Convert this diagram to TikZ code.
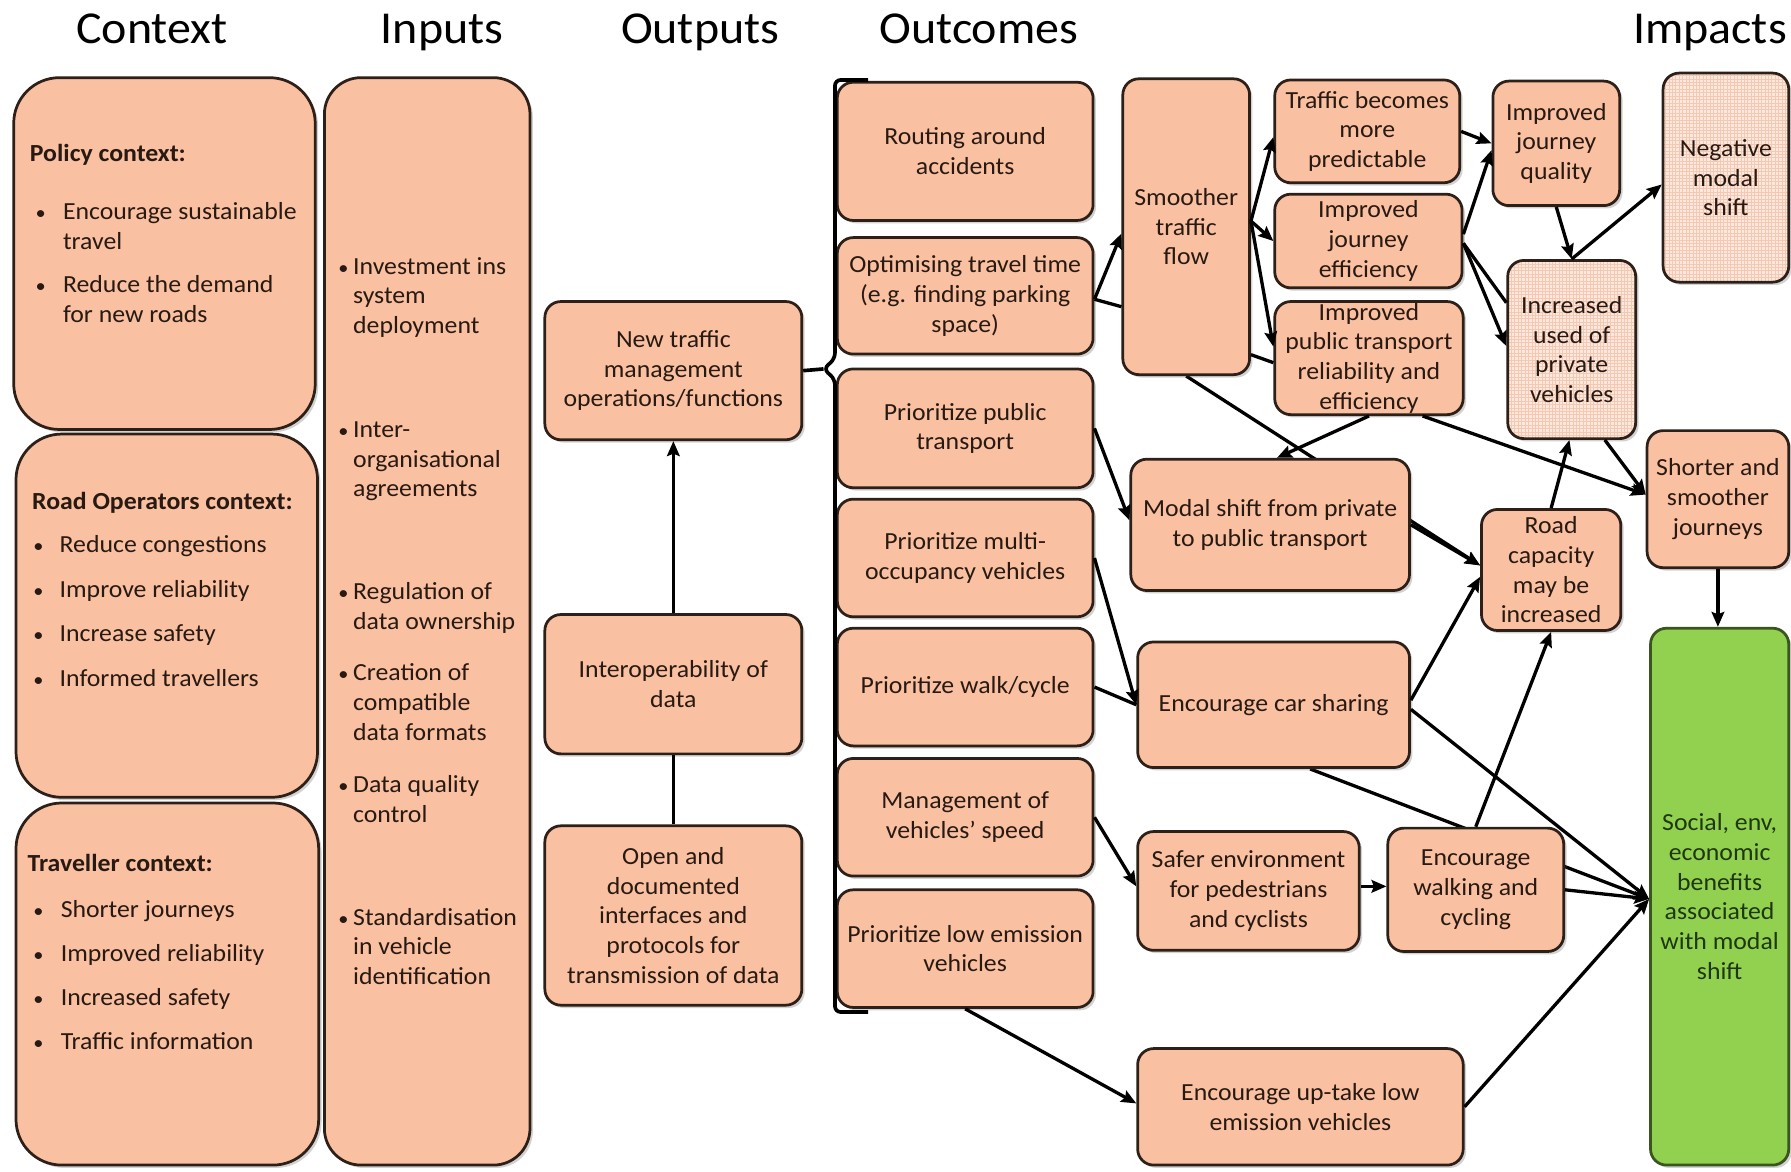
\documentclass[tikz,border=0pt]{standalone}
\usepackage{fontspec}
\setmainfont{Carlito}[FakeStretch=1.05]
\usetikzlibrary{arrows.meta,calc,shadows,patterns,backgrounds}
\definecolor{peach}{RGB}{249,192,161}
\definecolor{edge}{RGB}{45,32,24}
\definecolor{txt}{RGB}{40,26,18}
\definecolor{hatchbg}{RGB}{252,232,220}
\definecolor{hatchln}{RGB}{244,200,178}
\definecolor{grn}{RGB}{146,208,80}
\definecolor{grnedge}{RGB}{58,86,30}
\definecolor{grntxt}{RGB}{30,55,15}
\tikzset{
 shd/.style={drop shadow={shadow xshift=2.5pt,shadow yshift=-2.5pt,opacity=0.25,fill=black!70}},
 box/.style={shd, draw=edge, line width=2.4pt, fill=peach, rounded corners=14pt, align=center,
   text=txt, inner xsep=3pt, inner ysep=0pt, font=\fontsize{21.5}{26}\selectfont},
 hbox/.style={box, fill=none, preaction={fill=hatchbg}, pattern=grid, pattern color=hatchln},
 gbox/.style={box, fill=grn, draw=grnedge, text=grntxt},
 bigbox/.style={box, rounded corners=40pt},
 ctx/.style={text=txt, font=\fontsize{21.5}{26}\selectfont, inner sep=0pt, anchor=base west},
 ctxb/.style={ctx, font=\fontsize{21.5}{26}\selectfont\bfseries},
 hdr/.style={anchor=base, font=\fontsize{40}{48}\selectfont, inner sep=0pt, text=black},
 arr/.style={line width=2.9pt, draw=black, -{Stealth[length=13pt,width=11pt,inset=2pt]}},
 ln/.style={line width=2.9pt, draw=black},
 brk/.style={line width=3.2pt, draw=black, rounded corners=5pt},
}
\newcommand\bitem[5]{\node[ctx] (#1b) at (#2,#4) {\fontsize{17}{20}\selectfont•};\node[ctx] (#1) at (#3,#4) {#5};}
\newcommand\tline[4]{\node[ctx] (#1) at (#2,#3) {#4};}
\begin{document}
\begin{tikzpicture}[x=1pt,y=-1pt]
\begin{scope}[on background layer]
\fill[white] (0,0) rectangle (1568,1026);
\end{scope}
\useasboundingbox (0,0) rectangle (1568,1026);

% headers
\node[hdr] (hctx) at (133,38) {Context};
\node[hdr] (hinp) at (387,38) {Inputs};
\node[hdr] (hout) at (613,38) {Outputs};
\node[hdr] (hoc) at (857,38) {Outcomes};
\node[hdr] (himp) at (1497,38) {Impacts};

% context boxes
\node[bigbox, minimum width=264pt, minimum height=308pt] (policy) at (144,222) {};
\node[bigbox, minimum width=264pt, minimum height=318pt] (roadops) at (146,539) {};
\node[bigbox, minimum width=265pt, minimum height=317pt] (traveller) at (146.5,861.5) {};
\node[box, rounded corners=32pt, minimum width=180pt, minimum height=952pt] (inputs) at (374,544) {};

% policy text
\node[ctxb] (poltitle) at (26,141) {Policy context:};
\bitem{pa}{31}{55}{192}{Encourage sustainable}
\tline{pa2}{55}{218}{travel}
\bitem{pb}{31}{55}{256}{Reduce the demand}
\tline{pb2}{55}{282}{for new roads}
% road operators text
\node[ctxb] (rotitle) at (28,446) {Road Operators context:};
\bitem{ra}{29}{52}{484}{Reduce congestions}
\bitem{rb}{29}{52}{523}{Improve reliability}
\bitem{rc}{29}{52}{562}{Increase safety}
\bitem{rd}{29}{52}{601}{Informed travellers}
% traveller text
\node[ctxb] (trtitle) at (24,763) {Traveller context:};
\bitem{ta}{29}{53}{803}{Shorter journeys}
\bitem{tb}{29}{53}{842}{Improved reliability}
\bitem{tc}{29}{53}{880}{Increased safety}
\bitem{td}{29}{53}{919}{Traffic information}
% inputs text
\bitem{ia}{296}{309}{240}{Investment ins}
\tline{ia2}{309}{266}{system}
\tline{ia3}{309}{292}{deployment}
\bitem{ib}{296}{309}{383}{Inter-}
\tline{ib2}{309}{409}{organisational}
\tline{ib3}{309}{435}{agreements}
\bitem{ic}{296}{309}{525}{Regulation of}
\tline{ic2}{309}{551}{data ownership}
\bitem{id}{296}{309}{596}{Creation of}
\tline{id2}{309}{622}{compatible}
\tline{id3}{309}{648}{data formats}
\bitem{ie}{296}{309}{694}{Data quality}
\tline{ie2}{309}{720}{control}
\bitem{if}{296}{309}{810}{Standardisation}
\tline{if2}{309}{836}{in vehicle}
\tline{if3}{309}{862}{identification}

% outputs
\node[box, minimum width=225pt, minimum height=121pt] (ntm) at (589.5,324.5) {New traffic\\management\\operations/functions};
\node[box, minimum width=225pt, minimum height=122pt] (interop) at (589.5,599) {Interoperability of\\data};
\node[box, minimum width=225pt, minimum height=157pt] (open) at (589.5,801.5) {Open and\\documented\\interfaces and\\protocols for\\transmission of data};

% outcomes column 1
\node[box, minimum width=224pt, minimum height=121pt] (routing) at (845,132.5) {Routing around\\accidents};
\node[box, minimum width=224pt, minimum height=102pt] (optim) at (845,259) {Optimising travel time\\(e.g. finding parking\\space)};
\node[box, minimum width=224pt, minimum height=104pt] (ppt) at (845,375) {Prioritize public\\transport};
\node[box, minimum width=224pt, minimum height=103pt] (pmo) at (845,488.5) {Prioritize multi-\\occupancy vehicles};
\node[box, minimum width=224pt, minimum height=103pt] (pwc) at (845,601.5) {Prioritize walk/cycle};
\node[box, minimum width=224pt, minimum height=103pt] (mvs) at (845,715.5) {Management of\\vehicles’ speed};
\node[box, minimum width=224pt, minimum height=103pt] (ple) at (845,830.5) {Prioritize low emission\\vehicles};

% column 2
\node[box, minimum width=111pt, minimum height=259pt] (smoother) at (1038.5,198.5) {Smoother\\traffic\\flow};
\node[box, minimum width=244pt, minimum height=115pt] (modal) at (1112,459.5) {Modal shift from private\\to public transport};
\node[box, minimum width=238pt, minimum height=110pt] (carshare) at (1115,617) {Encourage car sharing};
\node[box, minimum width=194pt, minimum height=104pt] (safer) at (1093,780) {Safer environment\\for pedestrians\\and cyclists};
\node[box, minimum width=285pt, minimum height=102pt] (uptake) at (1138.5,969) {Encourage up-take low\\emission vehicles};

% column 3
\node[box, minimum width=162pt, minimum height=90pt] (predictable) at (1197,115) {Traffic becomes\\more\\predictable};
\node[box, minimum width=164pt, minimum height=82pt] (efficiency) at (1198,211) {Improved\\journey\\efficiency};
\node[box, minimum width=165pt, minimum height=99pt] (ptrel) at (1198.5,313.5) {Improved\\public transport\\reliability and\\efficiency};
\node[box, minimum width=122pt, minimum height=106pt] (roadcap) at (1358,499) {Road\\capacity\\may be\\increased};
\node[box, minimum width=154pt, minimum height=108pt] (walking) at (1292,779) {Encourage\\walking and\\cycling};

% column 4
\node[box, minimum width=111pt, minimum height=109pt] (quality) at (1362.5,125.5) {Improved\\journey\\quality};
\node[hbox, minimum width=112pt, minimum height=156pt] (increased) at (1376,306) {Increased\\used of\\private\\vehicles};
\node[hbox, minimum width=110pt, minimum height=183pt] (negative) at (1511,155.5) {Negative\\modal\\shift};
\node[box, minimum width=124pt, minimum height=120pt] (shorter) at (1504,437) {Shorter and\\smoother\\journeys};
\node[gbox, minimum width=121pt, minimum height=470pt] (social) at (1505.5,785) {Social, env,\\economic\\benefits\\associated\\with modal\\shift};

% connectors hidden behind boxes
\begin{scope}[on background layer]
\draw[arr] (smoother.south) -- ($(roadcap.west)+(0,-4)$);
\draw[arr] ($(carshare.south)+(32,0)$) -- ($(social.west)+(0,2)$);
\end{scope}

% outputs connectors
\draw[arr] (interop.north) -- (ntm.south);
\draw[ln] (open.north) -- (interop.south);

% bracket
\coordinate (bt) at (760,70);
\coordinate (bb) at (760,886);
\coordinate (tip) at (721,323);
\draw[brk] (bt) -- (731,70) -- (731,314) -- (tip) -- (731,332) -- (731,886) -- (bb);
\draw[brk] (ntm.east) -- (tip);

% outcome connectors
\draw[arr] ($(optim.east)+(0,3)$) -- ($(smoother.west)+(0,6)$);
\draw[ln] ($(smoother.west)+(0,70)$) -- ($(optim.east)+(0,3)$);
\draw[arr] ($(smoother.east)+(0,-5)$) -- ($(predictable.west)+(0,5)$);
\draw[arr] ($(smoother.east)+(0,-5)$) -- (efficiency.west);
\draw[arr] ($(smoother.east)+(0,-5)$) -- ($(ptrel.west)+(0,-10)$);
\draw[ln] ($(smoother.east)+(0,112)$) -- ($(ptrel.west)+(0,4)$);
\draw[arr] (ptrel.south) -- ($(modal.north)+(6,0)$);
\draw[arr] ($(ptrel.south)+(47,0)$) -- ($(shorter.west)+(0,-4)$);
\draw[arr] ($(increased.south)+(29,0)$) -- ($(shorter.west)+(0,-4)$);
\draw[arr] ($(efficiency.east)+(0,-6)$) -- ($(quality.west)+(0,6)$);
\draw[arr] (predictable.east) -- (quality.west);
\draw[arr] ($(efficiency.east)+(0,2)$) -- ($(increased.west)+(0,-3)$);
\draw[ln] ($(efficiency.east)+(0,2)$) -- ($(increased.west)+(0,-41)$);
\draw[arr] (quality.south) -- (increased.north);
\draw[arr] (increased.north) -- ($(negative.west)+(0,6)$);
\draw[arr] (roadcap.north) -- ($(increased.south)+(-2,0)$);
\draw[arr] (shorter.south) -- (shorter.south |- social.north);
\draw[arr] (ppt.east) -- ($(modal.west)+(0,-4)$);
\draw[arr] (pmo.east) -- (carshare.west);
\draw[ln] (pwc.east) -- (carshare.west);
\draw[arr] (mvs.east) -- ($(safer.west)+(0,-4)$);
\draw[arr] ($(safer.east)+(0,-4)$) -- ($(walking.west)+(0,-3)$);
\draw[arr] (ple.south) -- ($(uptake.west)+(0,-3)$);
\draw[arr] (uptake.east) -- ($(social.west)+(0,2)$);
\draw[arr] (walking.east) -- ($(social.west)+(0,2)$);
\draw[arr] ($(carshare.east)+(0,4)$) -- ($(social.west)+(0,2)$);
\draw[arr] ($(carshare.east)+(0,-4)$) -- ($(roadcap.west)+(0,6)$);
\draw[arr] (walking.north) -- (roadcap.south);
\draw[arr] (modal.east) -- ($(roadcap.west)+(0,-4)$);
\end{tikzpicture}
\end{document}
